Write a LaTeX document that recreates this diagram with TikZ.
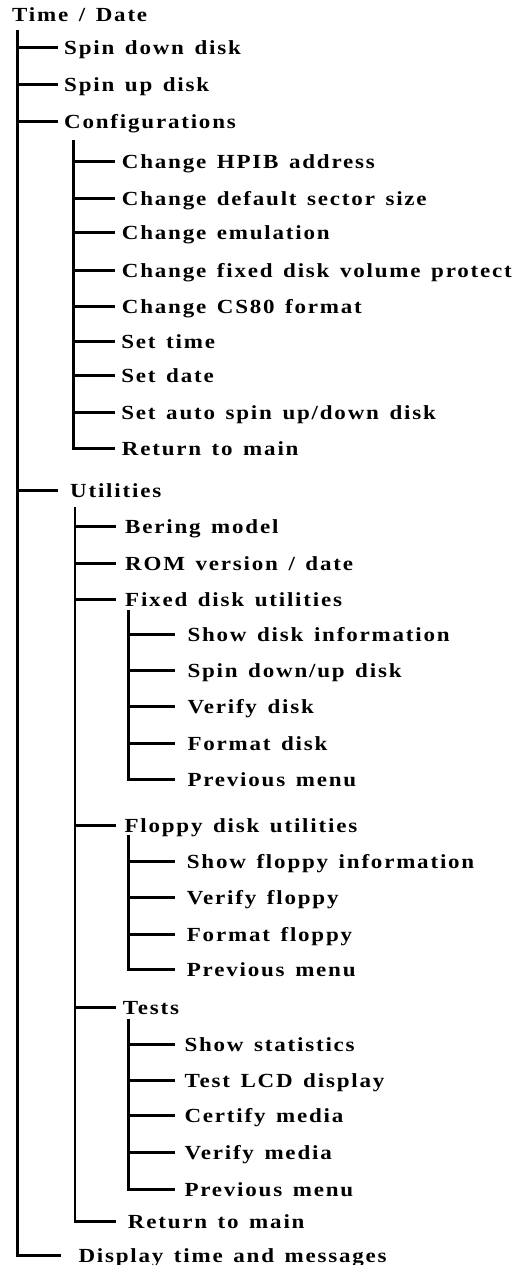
\documentclass[tikz,border=0pt]{standalone}
\usepackage{fontspec}
\newfontfamily\lblfont{Liberation Serif}[FakeStretch=1.15, LetterSpace=9, WordSpace=1.4]
\begin{document}
\begin{tikzpicture}[x=1pt,y=-1pt,
  lbl/.style={anchor=west, inner sep=0pt, text height=13.1pt, text depth=0pt, font=\fontsize{20}{23}\lblfont\bfseries},
  ln/.style={line width=2.7pt, line cap=butt, line join=miter}]
\useasboundingbox (0,0) rectangle (511,1265);

% root
\node[lbl] (root) at (12,15) {Time / Date};
\coordinate (b0) at (17.5,30);
\node[lbl] (sdd) at (64,47.5) {Spin down disk};
\node[lbl] (sud) at (64,84.5) {Spin up disk};
\node[lbl] (cfg) at (64,121.5) {Configurations};
\node[lbl] (util) at (70,490.5) {Utilities};
\node[lbl] (disp) at (78.3,1255.5) {Display time and messages};

% configurations
\coordinate (b1) at (73.5,140);
\node[lbl] (c1) at (121.7,161.5) {Change HPIB address};
\node[lbl] (c2) at (121.7,198.5) {Change default sector size};
\node[lbl] (c3) at (121.7,232.5) {Change emulation};
\node[lbl] (c4) at (121.7,270.5) {Change fixed disk volume protect};
\node[lbl] (c5) at (121.7,306.5) {Change CS80 format};
\node[lbl] (c6) at (121.2,341.5) {Set time};
\node[lbl] (c7) at (121.2,375.5) {Set date};
\node[lbl] (c8) at (121.2,412.5) {Set auto spin up/down disk};
\node[lbl] (c9) at (121.7,448.5) {Return to main};

% utilities
\coordinate (b2) at (75,506.5);
\node[lbl] (u1) at (125,526.5) {Bering model};
\node[lbl] (u2) at (125,563.5) {ROM version / date};
\node[lbl] (u3) at (125,599.5) {Fixed disk utilities};
\node[lbl] (u4) at (124.3,825.5) {Floppy disk utilities};
\node[lbl] (u5) at (122.7,1007.5) {Tests};
\node[lbl] (u6) at (127.7,1221.5) {Return to main};

% fixed disk
\coordinate (b3) at (128.5,610);
\node[lbl] (f1) at (187.3,634.5) {Show disk information};
\node[lbl] (f2) at (187.3,670.5) {Spin down/up disk};
\node[lbl] (f3) at (187.3,706.5) {Verify disk};
\node[lbl] (f4) at (187.3,743.5) {Format disk};
\node[lbl] (f5) at (187.3,779.5) {Previous menu};

% floppy
\coordinate (b4) at (128.5,835);
\node[lbl] (p1) at (186.7,861.5) {Show floppy information};
\node[lbl] (p2) at (186.7,897.5) {Verify floppy};
\node[lbl] (p3) at (186.7,934.5) {Format floppy};
\node[lbl] (p4) at (186.7,969.5) {Previous menu};

% tests
\coordinate (b5) at (128.5,1018.5);
\node[lbl] (t1) at (184.3,1044.5) {Show statistics};
\node[lbl] (t2) at (184.3,1080.5) {Test LCD display};
\node[lbl] (t3) at (184.3,1115.5) {Certify media};
\node[lbl] (t4) at (184.3,1152.5) {Verify media};
\node[lbl] (t5) at (184.3,1189.5) {Previous menu};

% connectors
\draw[ln] (b0) |- ([xshift=-17pt]disp.west);
\foreach \n/\g in {sdd/6,sud/6,cfg/6,util/12}
  \draw[ln] (b0 |- \n.west) -- ([xshift=-\g pt]\n.west);

\draw[ln] (b1) |- ([xshift=-6.7pt]c9.west);
\foreach \n in {c1,c2,c3,c4,c5}
  \draw[ln] (b1 |- \n.west) -- ([xshift=-6.7pt]\n.west);
\foreach \n in {c6,c7,c8}
  \draw[ln] (b1 |- \n.west) -- ([xshift=-6.2pt]\n.west);

\draw[ln] (b2) |- ([xshift=-11.7pt]u6.west);
\foreach \n/\g in {u1/9,u2/9,u3/9,u4/8.3,u5/6.7}
  \draw[ln] (b2 |- \n.west) -- ([xshift=-\g pt]\n.west);

\draw[ln] (b3) |- ([xshift=-12.3pt]f5.west);
\foreach \n in {f1,f2,f3,f4}
  \draw[ln] (b3 |- \n.west) -- ([xshift=-12.3pt]\n.west);

\draw[ln] (b4) |- ([xshift=-11.7pt]p4.west);
\foreach \n in {p1,p2,p3}
  \draw[ln] (b4 |- \n.west) -- ([xshift=-11.7pt]\n.west);

\draw[ln] (b5) |- ([xshift=-9.3pt]t5.west);
\foreach \n in {t1,t2,t3,t4}
  \draw[ln] (b5 |- \n.west) -- ([xshift=-9.3pt]\n.west);
\end{tikzpicture}
\end{document}
